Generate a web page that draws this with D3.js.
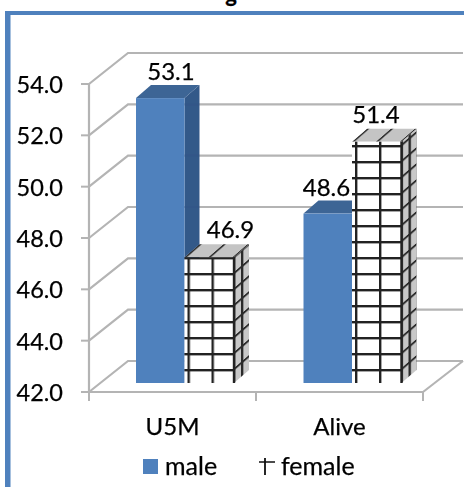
<!DOCTYPE html>
<html><head><meta charset="utf-8">
<script src="https://cdn.jsdelivr.net/npm/d3@7"></script>
<style>html,body{margin:0;padding:0;background:#fff;overflow:hidden}text{font-family:Lato,"Open Sans",sans-serif;fill:#000;stroke:#000;stroke-width:0.25px}</style>
</head><body><svg id="c" width="464" height="487"></svg>
<script>
const categories = ["U5M", "Alive"];
const seriesNames = ["male", "female"];
const male = [53.1, 48.6];
const female = [46.9, 51.4];
const yTicks = [42, 44, 46, 48, 50, 52, 54];

const svg = d3.select("#c");
const defs = svg.append("defs");
defs.append("filter").attr("id","soft").attr("x","-5%").attr("y","-5%").attr("width","110%").attr("height","110%")
  .append("feGaussianBlur").attr("stdDeviation",0.55);

const y = d3.scaleLinear().domain([42,54]).range([392,84]);
const x = d3.scaleBand().domain(categories).range([89,423]);
const backDx = 39, backDy = -31;
const barLift = -9;
const barDx = 15, barDy = -13;
const barW = 48.5;
const barStart = {U5M:136, Alive:303.5};
const by = v => y(v) + barLift;
// data-label nudges relative to each bar's left edge
const maleLabelDx = [35, 23], femaleLabelDx = [46, 24];

const root = svg.append("g");
root.append("rect").attr("x",5).attr("y",11).attr("width",5.5).attr("height",476).attr("fill","#4f81bd");
root.append("rect").attr("x",5).attr("y",11).attr("width",459).attr("height",4).attr("fill","#4f81bd");
root.append("text").attr("x",231).attr("y",2).attr("text-anchor","middle")
  .style("font-weight",700).style("font-size","22px").text("g");

const chart = root.append("g").attr("filter","url(#soft)");
const grid = "#b4b4b4";
yTicks.forEach(t=>{
  const yy=y(t);
  chart.append("path").attr("d",d3.line()([[89,yy],[89+backDx,yy+backDy],[463,yy+backDy]]))
    .attr("fill","none").attr("stroke",grid).attr("stroke-width",2.2);
  chart.append("line").attr("x1",81).attr("x2",89).attr("y1",yy).attr("y2",yy).attr("stroke",grid).attr("stroke-width",2);
});
chart.append("path").attr("d",d3.line()([[423,392],[423+backDx+1,392+backDy]])).attr("stroke",grid).attr("stroke-width",2.2).attr("fill","none");
chart.append("line").attr("x1",89).attr("x2",89).attr("y1",y(54)).attr("y2",y(42)).attr("stroke",grid).attr("stroke-width",2.2);
chart.append("line").attr("x1",89).attr("x2",423).attr("y1",y(42)).attr("y2",y(42)).attr("stroke",grid).attr("stroke-width",2.2);
[89,256,423].forEach(t=>chart.append("line").attr("x1",t).attr("x2",t).attr("y1",392).attr("y2",401).attr("stroke",grid).attr("stroke-width",2));

function hatch(id, ox, transform, bg, stroke, w, h){
  const p=defs.append("pattern").attr("id",id).attr("patternUnits","userSpaceOnUse")
    .attr("width",w).attr("height",h).attr("patternTransform",transform||null).attr("x",ox).attr("y",369);
  p.append("rect").attr("width",w).attr("height",h).attr("fill",bg);
  p.append("rect").attr("x",0).attr("y",0).attr("width",2.4).attr("height",h).attr("fill",stroke);
  p.append("rect").attr("x",0).attr("y",0).attr("width",w).attr("height",2.4).attr("fill",stroke);
}

categories.forEach((c,i)=>{
  const x0=barStart[c], x1=x0+barW, tm=by(male[i]), b=by(42);
  chart.append("path").attr("d",d3.line()([[x1,tm],[x1+barDx,tm+barDy],[x1+barDx,b+barDy],[x1,b]])).attr("fill","#2f5587").attr("opacity",0.98);
  chart.append("path").attr("d",d3.line()([[x0,tm],[x0+barDx,tm+barDy],[x1+barDx,tm+barDy],[x1,tm]])).attr("fill","#3d6595");
  chart.append("rect").attr("x",x0).attr("y",tm).attr("width",barW).attr("height",b-tm).attr("fill","#4f81bd");
  const fx0=x1, fx1=fx0+49.5, tf=by(female[i]);
  hatch("front"+i,fx0+3,null,"#ffffff","#222",24,16);
  hatch("side"+i,fx1-1,"matrix(1,-0.87,0,1,0,"+(0.87*(fx1-1))+")","#c8c8c8","#2a2a2a",8,16);
  hatch("top"+i,fx0,"matrix(1,0,-1.15,1,"+(1.15*tf)+",0)","#c4c4c4","#333",24,400);
  chart.append("path").attr("d",d3.line()([[fx1,tf],[fx1+barDx,tf+barDy],[fx1+barDx,b+barDy],[fx1,b]])).attr("fill","url(#side"+i+")");
  chart.append("path").attr("d",d3.line()([[fx0,tf],[fx0+barDx,tf+barDy],[fx1+barDx,tf+barDy],[fx1,tf]])).attr("fill","url(#top"+i+")");
  chart.append("rect").attr("x",fx0).attr("y",tf).attr("width",fx1-fx0).attr("height",b-tf).attr("fill","url(#front"+i+")");
  chart.append("line").attr("x1",fx1).attr("x2",fx1).attr("y1",tf).attr("y2",b).attr("stroke","#222").attr("stroke-width",2.4);
});

const fs="24px";
const txt = root.append("g").attr("filter","url(#soft)");
yTicks.forEach(t=>txt.append("text").attr("x",63).attr("y",y(t)+9).attr("text-anchor","end").style("font-size","23.5px").text(t.toFixed(1)));
categories.forEach((c,i)=>{
  txt.append("text").attr("x",x(c)+x.bandwidth()/2).attr("y",435).attr("text-anchor","middle").style("font-size",fs).text(c);
  const x0=barStart[c];
  txt.append("text").attr("x",x0+maleLabelDx[i]).attr("y",by(male[i])-18).attr("text-anchor","middle").style("font-size",fs).text(male[i].toFixed(1));
  txt.append("text").attr("x",x0+barW+femaleLabelDx[i]).attr("y",by(female[i])-19).attr("text-anchor","middle").style("font-size",fs).text(female[i].toFixed(1));
});
txt.append("rect").attr("x",143).attr("y",459).attr("width",15).attr("height",15).attr("fill","#4f81bd");
txt.append("text").attr("x",165).attr("y",475).style("font-size","25px").text(seriesNames[0]);
txt.append("line").attr("x1",259).attr("x2",275).attr("y1",462).attr("y2",462).attr("stroke","#111").attr("stroke-width",1.5);
txt.append("line").attr("x1",265).attr("x2",265).attr("y1",458).attr("y2",475).attr("stroke","#111").attr("stroke-width",1.8);
txt.append("text").attr("x",281).attr("y",475).style("font-size","25px").text(seriesNames[1]);
</script></body></html>
